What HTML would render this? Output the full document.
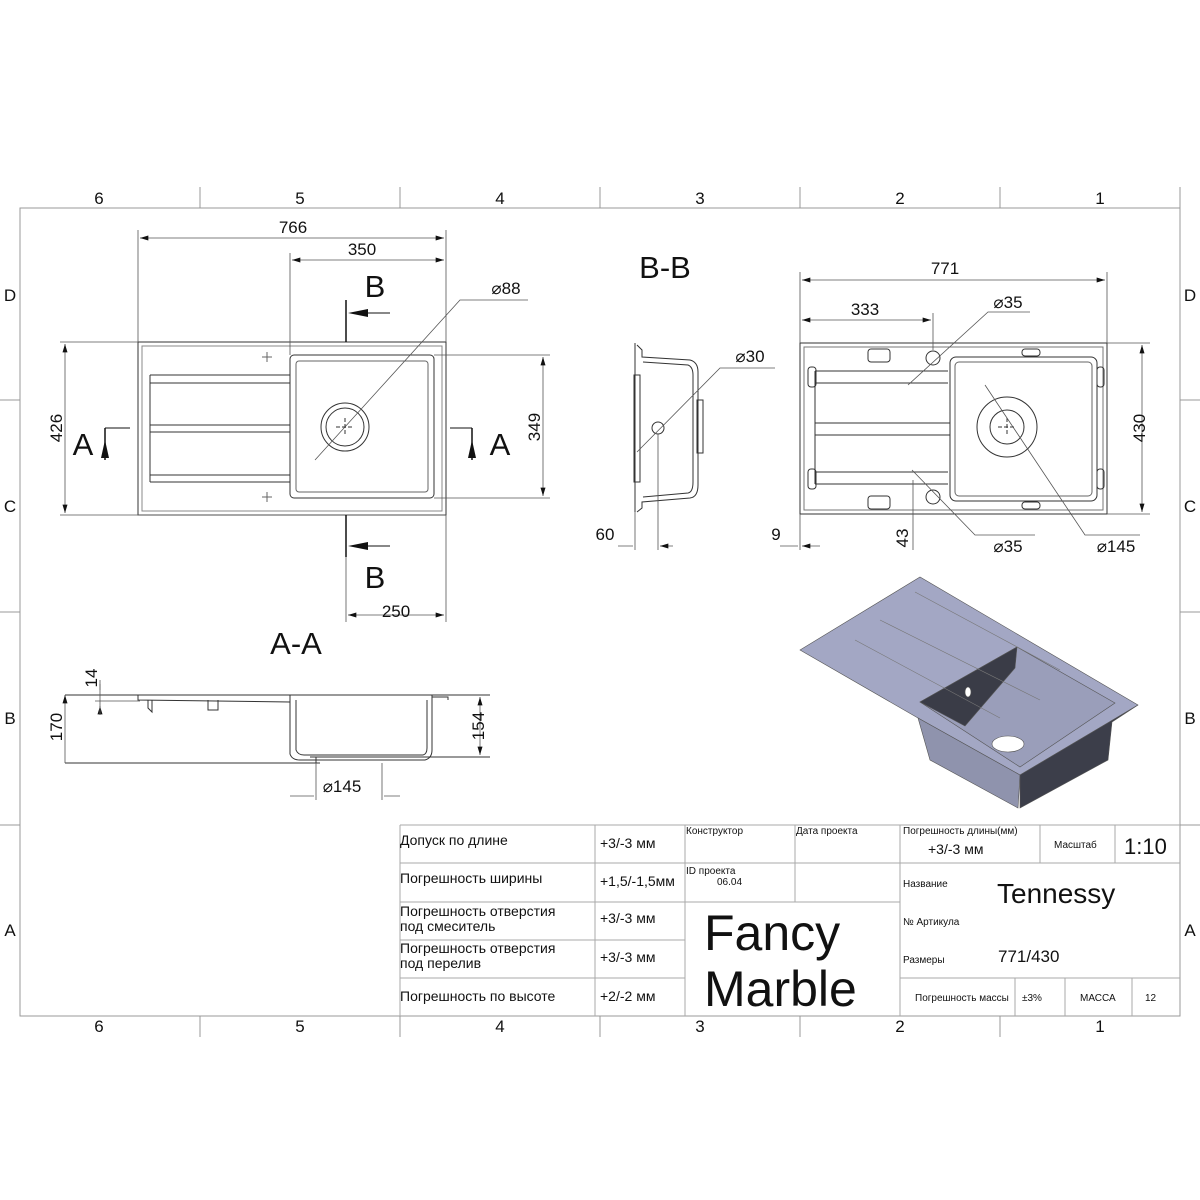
<!DOCTYPE html>
<html><head><meta charset="utf-8"><style>
html,body{margin:0;padding:0;background:#fff}
svg{display:block}
text{font-family:"Liberation Sans",sans-serif;fill:#111}
.t{font-family:"Liberation Sans Narrow","Liberation Sans",sans-serif}
</style></head><body>
<svg width="1200" height="1200" viewBox="0 0 1200 1200" xmlns="http://www.w3.org/2000/svg">
<defs>
<marker id="a" viewBox="0 0 10 6" refX="10" refY="3" markerWidth="10" markerHeight="5" orient="auto-start-reverse" markerUnits="userSpaceOnUse"><path d="M0,0L10,3L0,6z" fill="#111"/></marker>
</defs>
<g fill="none" stroke="#999" stroke-width="1">
<rect x="20" y="208" width="1160" height="808"/>
<path d="M200,187V208M400,187V208M600,187V208M800,187V208M1000,187V208M1180,187V208"/>
<path d="M200,1016V1037M400,1016V1037M600,1016V1037M800,1016V1037M1000,1016V1037"/>
<path d="M0,400H20M0,612H20M0,825H20M1180,400H1200M1180,612H1200M1180,825H1200"/>
</g>
<g font-size="17" text-anchor="middle">
<text x="99" y="204">6</text><text x="300" y="204">5</text><text x="500" y="204">4</text><text x="700" y="204">3</text><text x="900" y="204">2</text><text x="1100" y="204">1</text>
<text x="99" y="1032">6</text><text x="300" y="1032">5</text><text x="500" y="1032">4</text><text x="700" y="1032">3</text><text x="900" y="1032">2</text><text x="1100" y="1032">1</text>
<text x="10" y="301">D</text><text x="10" y="512">C</text><text x="10" y="724">B</text><text x="10" y="936">A</text>
<text x="1190" y="301">D</text><text x="1190" y="512">C</text><text x="1190" y="724">B</text><text x="1190" y="936">A</text>
</g>

<!-- TOP VIEW LEFT -->
<g fill="none" stroke="#333" stroke-width="1">
<rect x="138" y="342" width="308" height="173"/>
<rect x="142" y="346" width="300" height="165" stroke="#888"/>
<rect x="290" y="355" width="144" height="143" rx="4"/>
<rect x="296" y="361" width="132" height="131" rx="3" stroke="#666"/>
<path d="M150,375H290M150,383H290M150,425H290M150,432H290M150,475H290M150,482H290M150,375V482"/>
<circle cx="345" cy="427" r="24"/><circle cx="345" cy="427" r="19"/>
<path d="M336,427h18M345,418v18" stroke-dasharray="4,2"/>
<path d="M262,357h10M267,352v10M262,497h10M267,492v10" stroke="#666"/>
</g>
<g stroke="#555" stroke-width="0.8" fill="none">
<path d="M138,342V230M446,342V230M290,355V253M446,255V253M138,515H60M446,515H60M138,342H60M434,355H550M434,498H550M346,515V622M446,515V622"/>
<path d="M140,238H444" marker-start="url(#a)" marker-end="url(#a)"/>
<path d="M292,260H444" marker-start="url(#a)" marker-end="url(#a)"/>
<path d="M65,344V513" marker-start="url(#a)" marker-end="url(#a)"/>
<path d="M543,357V496" marker-start="url(#a)" marker-end="url(#a)"/>
<path d="M348,615H444" marker-start="url(#a)" marker-end="url(#a)"/>
<path d="M315,460L460,300H528"/>
</g>
<g stroke="#111" stroke-width="1.5" fill="none">
<path d="M346,300V342M346,515V557M105,428V460M472,428V460"/>
<path d="M360,313H390M360,546H390M105,428H130M472,428H450" stroke-width="1"/>
</g>
<g fill="#111">
<polygon points="348,313 368,309 368,317"/>
<polygon points="348,546 368,542 368,550"/>
<polygon points="105,440 101,458 109,458"/>
<polygon points="472,440 468,458 476,458"/>
</g>
<g font-size="17" text-anchor="middle">
<text x="293" y="233">766</text><text x="362" y="255">350</text>
<text x="506" y="294">⌀88</text>
<text x="396" y="617">250</text>
<text transform="translate(62,428) rotate(-90)">426</text>
<text transform="translate(540,427) rotate(-90)">349</text>
</g>
<g font-size="31" text-anchor="middle">
<text x="375" y="297">B</text><text x="375" y="588">B</text>
<text x="83" y="455">A</text><text x="500" y="455">A</text>
<text x="665" y="278">B-B</text><text x="296" y="654">A-A</text>
</g>

<!-- B-B section -->
<g fill="none" stroke="#333" stroke-width="1">
<path d="M635,343V512M637,345L642,350V357L690,360Q698,362 698,372V485Q698,497 690,498L642,502V508L637,512"/>
<path d="M643,362L688,365Q693,367 693,375V482Q693,492 688,493L643,497"/>
<rect x="634" y="375" width="6" height="107"/>
<rect x="697" y="400" width="6" height="53"/>
<circle cx="658" cy="428" r="6"/>
</g>
<g stroke="#555" stroke-width="0.8" fill="none">
<path d="M635,512V550M658,434V550M618,546H633M673,546H660" marker-end="url(#a)"/>
<path d="M637,452L720,368H775"/>
</g>
<g font-size="17" text-anchor="middle">
<text x="750" y="362">⌀30</text><text x="605" y="540">60</text>
</g>

<!-- TOP VIEW RIGHT -->
<g fill="none" stroke="#333" stroke-width="1">
<rect x="800" y="343" width="307" height="171"/>
<rect x="804" y="347" width="299" height="163" stroke="#777"/>
<rect x="950" y="357" width="147" height="144" rx="6"/>
<rect x="955" y="362" width="137" height="134" rx="4" stroke="#666"/>
<path d="M815,371H948M815,383H948M815,423H950M815,435H950M815,472H948M815,484H948M815,371V484"/>
<rect x="808" y="367" width="8" height="20" rx="3"/><rect x="808" y="469" width="8" height="20" rx="3"/>
<rect x="868" y="349" width="22" height="13" rx="3"/><rect x="868" y="496" width="22" height="13" rx="3"/>
<rect x="1022" y="349" width="18" height="7" rx="3"/><rect x="1022" y="502" width="18" height="7" rx="3"/>
<rect x="1097" y="367" width="7" height="20" rx="3"/><rect x="1097" y="469" width="7" height="20" rx="3"/>
<circle cx="933" cy="358" r="7"/><circle cx="933" cy="497" r="7"/>
<circle cx="1007" cy="427" r="30"/><circle cx="1007" cy="427" r="17"/>
<path d="M998,427h18M1007,418v18" stroke-dasharray="4,2"/>
</g>
<g stroke="#555" stroke-width="0.8" fill="none">
<path d="M800,343V272M1107,343V272M933,350V313M800,514V550M1107,343H1150M1107,514H1150"/>
<path d="M802,280H1105" marker-start="url(#a)" marker-end="url(#a)"/>
<path d="M802,320H931" marker-start="url(#a)" marker-end="url(#a)"/>
<path d="M1142,345V512" marker-start="url(#a)" marker-end="url(#a)"/>
<path d="M780,546H798M820,546H802" marker-end="url(#a)"/>
<path d="M908,385L988,312H1030M912,470L975,535H1035M985,385L1085,535H1140M913,480V550"/>
</g>
<g font-size="17" text-anchor="middle">
<text x="945" y="274">771</text><text x="865" y="315">333</text>
<text x="1008" y="308">⌀35</text><text x="1008" y="552">⌀35</text><text x="1116" y="552">⌀145</text>
<text x="776" y="540">9</text>
<text transform="translate(908,538) rotate(-90)">43</text>
<text transform="translate(1145,428) rotate(-90)">430</text>
</g>

<!-- A-A section -->
<g fill="none" stroke="#333" stroke-width="1">
<path d="M65,695H490M65,763H320M310,757H490"/>
<path d="M138,695V700L290,702M290,695V754Q292,760 300,760H425Q432,758 432,750V695M296,700V750Q298,755 304,755H423Q427,754 427,748V700M432,697H448V700"/>
<path d="M148,700V708L152,712V700M208,700V710H218V700"/>
<path d="M316,757V763M334,755H372M375,755H395"/>
</g>
<g stroke="#555" stroke-width="0.8" fill="none">
<path d="M65,695V763M100,684V690M100,712V706" marker-start="url(#a)" marker-end="url(#a)"/>
<path d="M100,680V715M95,701H140M316,763V800M382,763V800M290,796H314M400,796H384" />
<path d="M480,697V755" marker-start="url(#a)" marker-end="url(#a)"/>
</g>
<g font-size="17" text-anchor="middle">
<text transform="translate(62,727) rotate(-90)">170</text>
<text transform="translate(97,678) rotate(-90)">14</text>
<text transform="translate(484,726) rotate(-90)">154</text>
<text x="342" y="792">⌀145</text>
</g>

<!-- 3D -->
<g stroke="#555" stroke-width="0.6">
<polygon points="800,650 920,577 1138,705 1020,775 918,718" fill="#a3a7c4"/>
<polygon points="918,718 1020,775 1018,808 930,760" fill="#8f93ad"/>
<polygon points="1020,775 1138,705 1112,722 1108,760 1020,808" fill="#3c3e4a"/>
<polygon points="920,702 1017,647 1115,703 1020,767" fill="#9a9eba"/>
<polygon points="920,702 1017,647 1015,668 965,726" fill="#3a3c47"/>
<ellipse cx="1008" cy="744" rx="16" ry="8" fill="#fff"/>
<ellipse cx="968" cy="692" rx="3" ry="5" fill="#fff"/>
<path d="M855,640L1000,718M880,620L1040,700M915,592L1060,670" stroke="#777" fill="none"/>
</g>

<!-- TITLE BLOCK -->
<g fill="none" stroke="#aaa" stroke-width="1">
<path d="M400,825H1180M400,825V1016M400,863H900M400,902H685M400,940H685M400,978H685M595,825V1016M685,825V1016M795,825V902M685,902H900M900,825V1016M900,863H1180M1040,825V863M1115,825V863M900,978H1180M1015,978V1016M1065,978V1016M1132,978V1016"/>
</g>
<g class="t" font-size="14">
<text x="400" y="845">Допуск по длине</text>
<text x="400" y="883">Погрешность ширины</text>
<text x="400" y="916">Погрешность отверстия</text>
<text x="400" y="931">под смеситель</text>
<text x="400" y="953">Погрешность отверстия</text>
<text x="400" y="968">под перелив</text>
<text x="400" y="1001">Погрешность по высоте</text>
<text x="600" y="848">+3/-3 мм</text>
<text x="600" y="886">+1,5/-1,5мм</text>
<text x="600" y="923">+3/-3 мм</text>
<text x="600" y="962">+3/-3 мм</text>
<text x="600" y="1001">+2/-2 мм</text>
</g>
<g class="t" font-size="10">
<text x="686" y="834">Конструктор</text>
<text x="796" y="834">Дата проекта</text>
<text x="686" y="874">ID проекта</text>
<text x="717" y="885">06.04</text>
<text x="903" y="834">Погрешность длины(мм)</text>
<text x="1054" y="848">Масштаб</text>
<text x="903" y="887">Название</text>
<text x="903" y="925">№ Артикула</text>
<text x="903" y="963">Размеры</text>
<text x="915" y="1001">Погрешность массы</text>
<text x="1022" y="1001">±3%</text>
<text x="1080" y="1001">МАССА</text>
<text x="1145" y="1001">12</text>
</g>
<g class="t">
<text x="928" y="854" font-size="14">+3/-3 мм</text>
<text x="1124" y="854" font-size="22">1:10</text>
<text x="997" y="903" font-size="28">Tennessy</text>
<text x="998" y="962" font-size="17">771/430</text>
<text x="704" y="950" font-size="50">Fancy</text>
<text x="704" y="1006" font-size="50">Marble</text>
</g>
</svg>
</body></html>
